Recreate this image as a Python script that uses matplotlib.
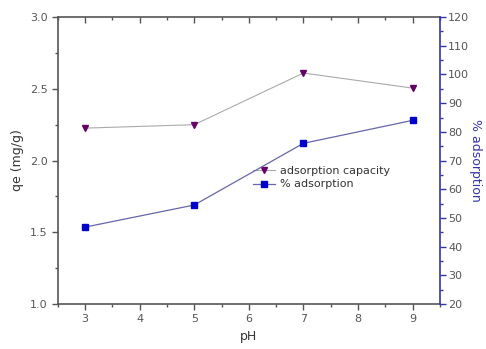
import matplotlib
matplotlib.use('Agg')
import matplotlib.pyplot as plt
from matplotlib.ticker import MultipleLocator

# values
ph = [3, 5, 7, 9]
capacity = [2.226, 2.25, 2.61, 2.505]
percent = [46.8, 54.5, 76.0, 84.0]

grey = '#555555'
blue = '#3333aa'

fig = plt.figure(figsize=(4.86, 3.49), dpi=100, facecolor='white')
ax = fig.add_axes([0.119, 0.129, 0.786, 0.822])
ax2 = ax.twinx()

l1, = ax.plot(ph, capacity, color='#aaaaaa', lw=0.8, marker='v', ms=5,
              mfc='#660066', mec='#660066', label='adsorption capacity')
l2, = ax2.plot(ph, percent, color='#6666aa', lw=0.9, marker='s', ms=4,
               mfc='#0000cc', mec='#0000cc', label='% adsorption')

ax.set_xlim(2.5, 9.5)
ax.set_ylim(1.0, 3.0)
ax2.set_ylim(20, 120)
ax.set_xticks([3, 4, 5, 6, 7, 8, 9])
ax.xaxis.set_minor_locator(MultipleLocator(0.5))
ax.yaxis.set_major_locator(MultipleLocator(0.5))
ax.yaxis.set_minor_locator(MultipleLocator(0.25))
ax2.yaxis.set_major_locator(MultipleLocator(10))
ax2.yaxis.set_minor_locator(MultipleLocator(5))

for s in ['left', 'bottom']:
    ax.spines[s].set_color(grey)
    ax.spines[s].set_linewidth(1.2)
ax.spines['right'].set_visible(False)
ax.spines['top'].set_visible(False)
for s in ['left', 'bottom', 'top']:
    ax2.spines[s].set_visible(False)
ax2.spines['right'].set_color(blue)
ax2.spines['right'].set_linewidth(1.2)

ax.tick_params(axis='both', which='both', direction='out', colors=grey,
               labelsize=8, width=1)
ax.tick_params(which='major', length=4)
ax.tick_params(which='minor', length=2)
ax2.tick_params(axis='y', which='both', direction='out', colors=blue,
                labelcolor=grey, labelsize=8, width=1, pad=2)
ax2.tick_params(which='major', length=4)
ax2.tick_params(which='minor', length=2)

# top axis: ticks point inward
top = ax.secondary_xaxis('top')
top.set_xticks([3, 4, 5, 6, 7, 8, 9])
top.xaxis.set_minor_locator(MultipleLocator(0.5))
top.tick_params(which='both', direction='in', colors=grey, labeltop=False, width=1)
top.tick_params(which='major', length=4)
top.tick_params(which='minor', length=2)
top.spines['top'].set_color(grey)
top.spines['top'].set_linewidth(1.2)

ax.set_xlabel('pH', fontsize=9, color='#333333')
ax.set_ylabel('qe (mg/g)', fontsize=9, color='#333333')
ax2.set_ylabel('% adsorption', fontsize=9, color=blue, rotation=270, labelpad=9)

ax.legend([l1, l2], [l1.get_label(), l2.get_label()], loc='center left',
          bbox_to_anchor=(0.5, 0.44), frameon=False, fontsize=8,
          handlelength=2, labelcolor='#333333', borderaxespad=0,
          handletextpad=0.4, labelspacing=0.3)

fig.savefig('out.png', dpi=100, facecolor='white')
